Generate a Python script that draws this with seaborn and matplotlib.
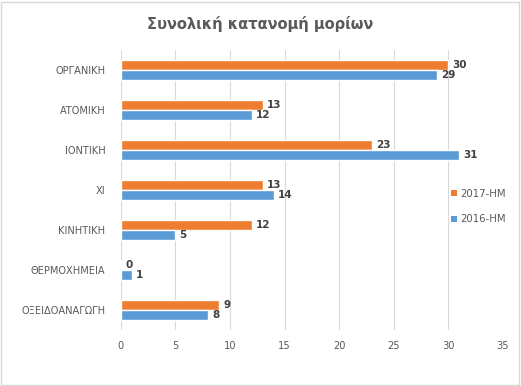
import matplotlib
matplotlib.use("Agg")
import matplotlib.pyplot as plt
import seaborn as sns
import pandas as pd

categories = ["ΟΡΓΑΝΙΚΗ", "ΑΤΟΜΙΚΗ", "ΙΟΝΤΙΚΗ", "ΧΙ", "ΚΙΝΗΤΙΚΗ", "ΘΕΡΜΟΧΗΜΕΙΑ", "ΟΞΕΙΔΟΑΝΑΓΩΓΗ"]
series_2017 = [30, 13, 23, 13, 12, 0, 9]
series_2016 = [29, 12, 31, 14, 5, 1, 8]
series_names = ["2017-HM", "2016-HM"]
title = "Συνολική κατανομή μορίων"
x_ticks = [0, 5, 10, 15, 20, 25, 30, 35]

df = pd.DataFrame({
    "cat": categories * 2,
    "val": series_2017 + series_2016,
    "series": [series_names[0]] * len(categories) + [series_names[1]] * len(categories),
})

sns.set_theme(style="white")
plt.rcParams["font.family"] = ["DejaVu Sans"]

fig = plt.figure(figsize=(5.21, 3.86), dpi=100)
ax = fig.add_axes([0.232, 0.145, 0.733, 0.725])

palette = {series_names[0]: "#ED7D31", series_names[1]: "#5B9BD5"}
sns.barplot(data=df, y="cat", x="val", hue="series", hue_order=series_names,
            order=categories, palette=palette, orient="h", width=0.5,
            saturation=1, ax=ax, legend=False, zorder=3)

for cont in ax.containers:
    ax.bar_label(cont, padding=3, fontsize=7.5, fontweight="bold", color="#404040")

ax.set_xlim(0, 35)
ax.set_xticks(x_ticks)
ax.set_xticklabels([str(t) for t in x_ticks])
ax.xaxis.grid(True, color="#D9D9D9", linewidth=0.8, zorder=0)
ax.yaxis.grid(False)
for s in ax.spines.values():
    s.set_visible(False)
ax.set_xlabel("")
ax.set_ylabel("")
ax.tick_params(axis="both", length=0, labelsize=7.1, colors="#595959")
ax.tick_params(axis="x", pad=8)
ax.tick_params(axis="y", pad=11)

fig.text(0.5, 0.937, title, ha="center", va="center", fontsize=10.5,
         fontweight="bold", color="#595959")

from matplotlib.patches import Patch
handles = [Patch(facecolor=palette[n], edgecolor="none") for n in series_names]
fig.legend(handles, series_names, loc="center left", bbox_to_anchor=(0.848, 0.465),
           frameon=False, fontsize=7.3, labelcolor="#595959", handlelength=0.6,
           handleheight=0.6, handletextpad=0.35, labelspacing=1.55)

fig.patches.append(plt.Rectangle((0.002, 0.003), 0.995, 0.993, transform=fig.transFigure,
                                 fill=False, edgecolor="#D9D9D9", linewidth=1))

fig.savefig("out.png", dpi=100)
